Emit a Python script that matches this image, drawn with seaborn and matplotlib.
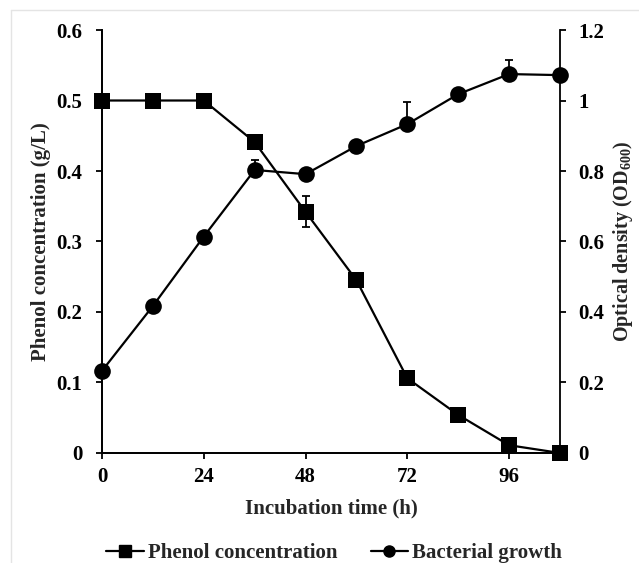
import numpy as np
import matplotlib
matplotlib.use('Agg')
import matplotlib.pyplot as plt
from matplotlib.ticker import FuncFormatter
from matplotlib.lines import Line2D
import seaborn as sns

# data
hours = [0, 12, 24, 36, 48, 60, 72, 84, 96, 108]
phenol = [0.5, 0.5, 0.5, 0.441, 0.342, 0.245, 0.106, 0.054, 0.011, 0.0]
phenol_err = [0, 0, 0, 0.006, 0.022, 0.008, 0.006, 0, 0, 0]
od600 = [0.233, 0.417, 0.614, 0.803, 0.791, 0.871, 0.933, 1.018, 1.075, 1.072]
od600_err = [0, 0, 0, 0.028, 0, 0, 0.064, 0, 0.04, 0]

sns.set_theme(style='ticks')
plt.rcParams['font.family'] = ['Liberation Serif', 'DejaVu Serif']
plt.rcParams['font.weight'] = 'bold'
plt.rcParams['mathtext.fontset'] = 'custom'
plt.rcParams['mathtext.rm'] = 'Liberation Serif:bold'
plt.rcParams['mathtext.default'] = 'rm'

fs = 15
fig = plt.figure(figsize=(6.39, 5.63), dpi=100)
ax = fig.add_axes([0.1596, 0.1954, 0.8764 - 0.1596, 0.9467 - 0.1954])
ax2 = ax.twinx()

# error bars
ax.errorbar(hours, phenol, yerr=phenol_err, fmt='none', ecolor='black',
            elinewidth=1.3, capsize=3, capthick=1.3, zorder=1)
ax2.errorbar(hours, od600, yerr=[np.zeros(len(od600_err)), od600_err], fmt='none',
             ecolor='black', elinewidth=1.3, capsize=3, capthick=1.3, zorder=1)

sns.lineplot(x=hours, y=phenol, ax=ax, color='black', marker='s', markersize=12,
             markeredgewidth=0, linewidth=1.6, clip_on=False, zorder=3)
sns.lineplot(x=hours, y=od600, ax=ax2, color='black', marker='o', markersize=12,
             markeredgewidth=0, linewidth=1.6, clip_on=False, zorder=3)

ax.set_xlim(0, 108)
ax.set_ylim(0, 0.6)
ax2.set_ylim(0, 1.2)
ax.set_xticks([0, 24, 48, 72, 96])
ax.set_yticks(np.arange(0, 0.61, 0.1))
ax2.set_yticks(np.arange(0, 1.21, 0.2))
fmt = FuncFormatter(lambda v, p: '{:g}'.format(round(v, 2)))
ax.yaxis.set_major_formatter(fmt)
ax2.yaxis.set_major_formatter(fmt)

for a in (ax, ax2):
    a.tick_params(direction='out', length=4, width=1.3, labelsize=fs,
                  color='black', labelcolor='black')
    for s in a.spines.values():
        s.set_linewidth(1.3)
        s.set_color('black')
    a.spines['top'].set_visible(False)
ax.spines['right'].set_visible(False)
ax.tick_params(axis='y', pad=10)
ax.tick_params(axis='x', pad=6)
ax2.tick_params(axis='y', pad=9)

ax.set_xlabel('Incubation time (h)', fontsize=fs, fontweight='bold', labelpad=8)
ax.set_ylabel('Phenol concentration (g/L)', fontsize=fs, fontweight='bold', labelpad=4)
ax2.set_ylabel('Optical density (OD$_{600}$)', fontsize=14.5, fontweight='bold', labelpad=5)

handles = [Line2D([], [], color='black', marker='s', markersize=8, linewidth=1.6),
           Line2D([], [], color='black', marker='o', markersize=8, linewidth=1.6)]
fig.legend(handles, ['Phenol concentration', 'Bacterial growth'], loc='center',
           bbox_to_anchor=(0.523, 0.018), ncol=2, frameon=False, fontsize=fs,
           handlelength=1.8, handletextpad=0.2, columnspacing=1.6)

# faint frame of the original screenshot
fig.add_artist(Line2D([0.017, 1], [0.982, 0.982], color='#e4e4e4', linewidth=1,
                      transform=fig.transFigure))
fig.add_artist(Line2D([0.017, 0.017], [0, 0.982], color='#e4e4e4', linewidth=1,
                      transform=fig.transFigure))

fig.savefig('out.png', dpi=100)
